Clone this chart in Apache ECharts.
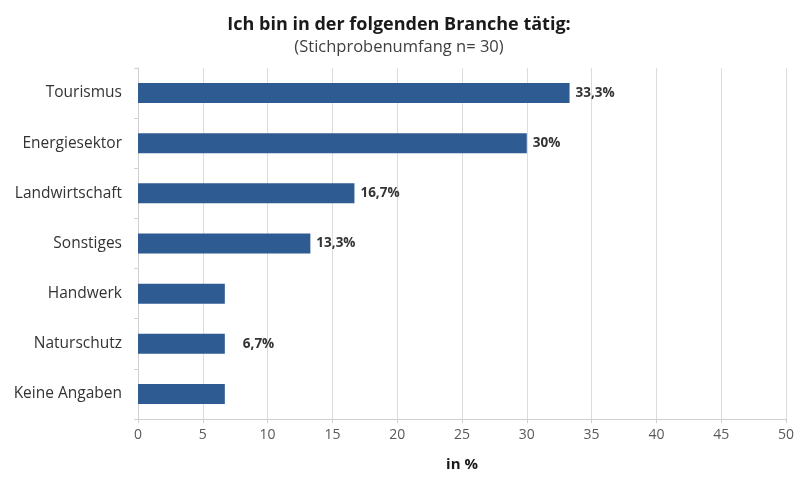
<!DOCTYPE html>
<html>
<head>
<meta charset="utf-8">
<script src="https://cdn.jsdelivr.net/npm/echarts@6/dist/echarts.min.js"></script>
<style>html,body{margin:0;padding:0;background:#fff}#c{width:798px;height:477px}</style>
</head>
<body>
<div id="c"></div>
<script>
var categories = ['Tourismus','Energiesektor','Landwirtschaft','Sonstiges','Handwerk','Naturschutz','Keine Angaben'];
var values = [33.3, 30, 16.7, 13.3, 6.7, 6.7, 6.7];
var valueLabels = ['33,3%','30%','16,7%','13,3%','','6,7%',''];
var xTicks = [0,5,10,15,20,25,30,35,40,45,50];

var FONT = '"Open Sans", sans-serif';
var chart = echarts.init(document.getElementById('c'), null, {renderer:'canvas'});
var seriesData = values.map(function(v, i){
  var d = {value: v, label: {show: valueLabels[i] !== '', formatter: valueLabels[i]}};
  if (categories[i] === 'Naturschutz') d.label.distance = 18;
  return d;
});
chart.setOption({
  animation: false,
  backgroundColor: '#ffffff',
  title: {
    text: 'Ich bin in der folgenden Branche tätig:',
    subtext: '(Stichprobenumfang n= 30)',
    left: 'center', top: 11, itemGap: 5,
    textStyle: {fontFamily: FONT, fontSize: 18, fontWeight: 'bold', color: '#1a1a1a'},
    subtextStyle: {fontFamily: FONT, fontSize: 16.5, color: '#404040'}
  },
  grid: {left: 138, right: 12, top: 68, bottom: 56, containLabel: false},
  xAxis: {
    type: 'value', min: 0, max: 50, interval: 5,
    name: 'in %', nameLocation: 'middle', nameGap: 38,
    nameTextStyle: {fontFamily: FONT, fontSize: 15, fontWeight: 'bold', color: '#1a1a1a'},
    axisLine: {show: true, lineStyle: {color: '#d0d0d0'}},
    axisTick: {show: true, length: 4, lineStyle: {color: '#d0d0d0'}},
    axisLabel: {fontFamily: FONT, fontSize: 14, color: '#595959', margin: 9,
      formatter: function(v){ return xTicks.indexOf(v) >= 0 ? String(v) : ''; }},
    splitLine: {show: true, lineStyle: {color: '#dcdcdc'}}
  },
  yAxis: {
    type: 'category', data: categories, inverse: true,
    axisLine: {show: true, lineStyle: {color: '#d0d0d0'}},
    axisTick: {show: true, length: 4, lineStyle: {color: '#d0d0d0'}},
    axisLabel: {fontFamily: FONT, fontSize: 15.5, color: '#333333', margin: 16}
  },
  series: [{
    type: 'bar', data: seriesData, barWidth: 20,
    itemStyle: {color: '#2f5b93'},
    label: {show: true, position: 'right', distance: 6,
      fontFamily: FONT, fontSize: 13.5, fontWeight: 'bold', color: '#333333'}
  }]
});
</script>
</body>
</html>
